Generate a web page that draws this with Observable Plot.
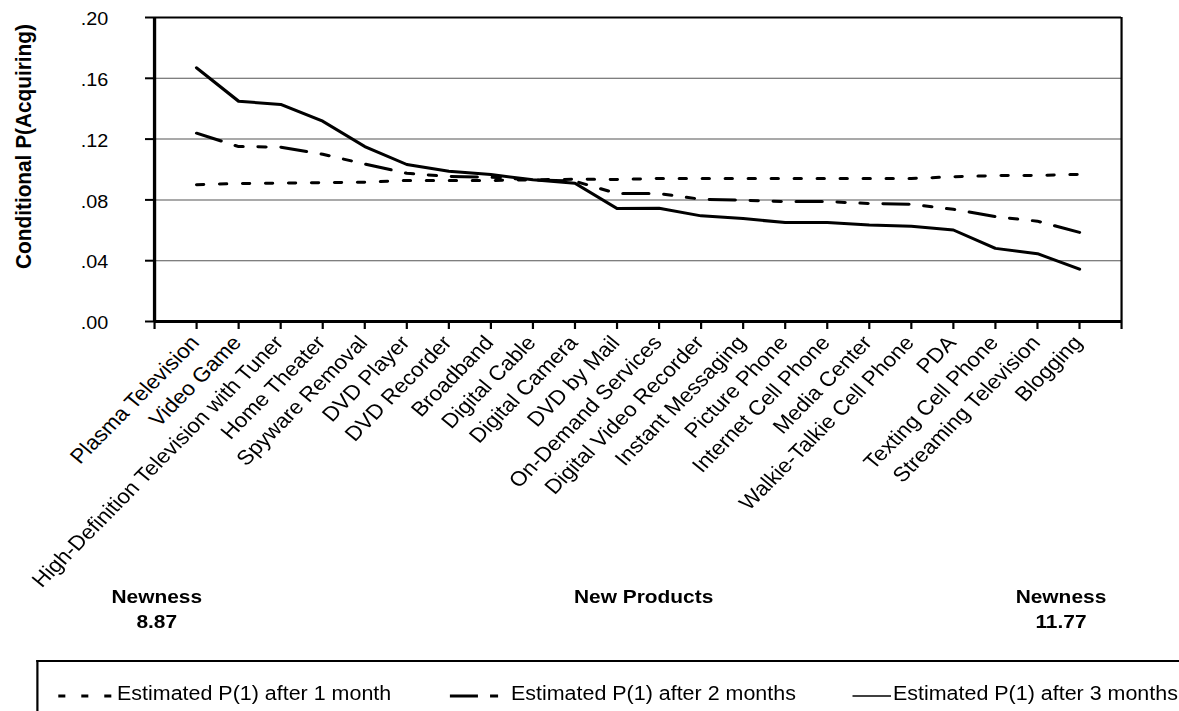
<!DOCTYPE html>
<html>
<head>
<meta charset="utf-8">
<script src="https://cdn.jsdelivr.net/npm/d3@7"></script>
<script src="https://cdn.jsdelivr.net/npm/@observablehq/plot@0.6"></script>
<style>
  html, body { margin: 0; padding: 0; background: #fff; overflow: hidden; }
  #page { position: relative; width: 1072px; height: 711px; transform: scaleX(1.1); transform-origin: 0 0;
          font-family: "Liberation Sans", Arial, Helvetica, sans-serif; color: #000; }
  #chart { position: absolute; left: 0; top: 0; }
  .note { position: absolute; top: 584px; font-weight: bold; font-size: 19px; line-height: 25px;
          text-align: center; white-space: nowrap; transform: translateX(-50%); }
  #legendBox { position: absolute; left: 32.7px; top: 660px; width: 1100px; height: 60px;
               border-top: 2px solid #000; border-left: 2px solid #000; box-sizing: border-box; }
  .legText { position: absolute; top: 683px; font-size: 19.5px; line-height: 20px; white-space: nowrap; }
  .legSample { position: absolute; top: 690px; height: 12px; overflow: visible; }
</style>
</head>
<body>
<div id="page">
  <div id="chart"></div>
  <div id="legendBox"></div>
</div>
<script>
// ---------- data ----------
const products = [
  "Plasma Television", "Video Game", "High-Definition Television with Tuner", "Home Theater",
  "Spyware Removal", "DVD Player", "DVD Recorder", "Broadband", "Digital Cable", "Digital Camera",
  "DVD by Mail", "On-Demand Services", "Digital Video Recorder", "Instant Messaging", "Picture Phone",
  "Internet Cell Phone", "Media Center", "Walkie-Talkie Cell Phone", "PDA", "Texting Cell Phone",
  "Streaming Television", "Blogging"
];
const month1 = [0.0900, 0.0908, 0.0910, 0.0914, 0.0916, 0.0928, 0.0928, 0.0928, 0.0932, 0.0936, 0.0934,
                0.0941, 0.0941, 0.0941, 0.0941, 0.0941, 0.0941, 0.0941, 0.0952, 0.0960, 0.0961, 0.0968];
const month2 = [0.1239, 0.1151, 0.1147, 0.1100, 0.1036, 0.0975, 0.0954, 0.0949, 0.0932, 0.0923, 0.0842,
                0.0842, 0.0804, 0.0798, 0.0789, 0.0789, 0.0776, 0.0771, 0.0738, 0.0690, 0.0660, 0.0586];
const month3 = [0.1669, 0.1449, 0.1428, 0.1318, 0.1151, 0.1033, 0.0989, 0.0967, 0.0932, 0.0910, 0.0743,
                0.0745, 0.0695, 0.0677, 0.0651, 0.0651, 0.0635, 0.0626, 0.0602, 0.0481, 0.0446, 0.0344];
const yTicks = [0, 0.04, 0.08, 0.12, 0.16, 0.20];
const yTickLabels = [".00", ".04", ".08", ".12", ".16", ".20"];
const yTitle = "Conditional P(Acquiring)";
const xTitle = "New Products";
const newnessLeft = ["Newness", "8.87"];
const newnessRight = ["Newness", "11.77"];
const legendLabels = ["Estimated P(1) after 1 month", "Estimated P(1) after 2 months", "Estimated P(1) after 3 months"];

// ---------- layout (unstretched units; page is stretched by S horizontally) ----------
const S = 1.1;
const W = 1072;
const H = 600;
const dash1 = "6.4,14.5";
const dash2 = "23.6,13.6,7.3,13.6,7.3,13.6";

const rows = products.map((p, k) => ({pos: k + 1, product: p, m1: month1[k], m2: month2[k], m3: month3[k]}));
const xTicks = d3.range(0, products.length + 2);
const yMax = yTicks[yTicks.length - 1];

const marks = [
  Plot.ruleY(yTicks.slice(1, -1), {stroke: "#555", strokeWidth: 1}),
  Plot.line(rows, {x: "pos", y: "m3", stroke: "#000", strokeWidth: 3, strokeLinejoin: "round"}),
  Plot.line(rows, {x: "pos", y: "m2", stroke: "#000", strokeWidth: 3, strokeDasharray: dash2, strokeLinejoin: "round"}),
  Plot.line(rows, {x: "pos", y: "m1", stroke: "#000", strokeWidth: 3, strokeDasharray: dash1, strokeLinejoin: "round"}),
  Plot.ruleY([yMax], {stroke: "#000", strokeWidth: 2}),
  Plot.ruleX([products.length + 1], {stroke: "#000", strokeWidth: 2}),
  Plot.ruleX([0], {stroke: "#000", strokeWidth: 3}),
  Plot.ruleY([0], {stroke: "#000", strokeWidth: 3}),
  Plot.text(yTicks, {frameAnchor: "left", y: d => d, text: (d, i) => yTickLabels[i],
                     textAnchor: "end", dx: -42.1, dy: 2, fontSize: 18}),
  Plot.text(rows, {x: "pos", text: "product", frameAnchor: "bottom", rotate: -48,
                   textAnchor: "end", dx: 3.5, dy: 22, fontSize: 20.5}),
  Plot.text([yTitle], {frameAnchor: "left", text: d => d, rotate: -90, textAnchor: "middle",
                       dx: -119.1, dy: -23, fontSize: 20.8, fontWeight: "bold"})
];
if (Plot.axisX) {
  marks.push(Plot.axisX({ticks: xTicks, tickSize: 8, tickFormat: () => "", strokeWidth: 2, label: null}));
  marks.push(Plot.axisY({ticks: yTicks, tickSize: 8.2, tickFormat: () => "", strokeWidth: 2, label: null}));
}

const chart = Plot.plot({
  width: W, height: H,
  marginLeft: 140, marginRight: W - 1121 / S, marginTop: 17, marginBottom: H - 321,
  x: Plot.axisX ? {type: "linear", domain: [0, products.length + 1]}
               : {type: "linear", domain: [0, products.length + 1], ticks: xTicks, tickSize: 8, tickFormat: () => "", label: null},
  y: Plot.axisX ? {type: "linear", domain: [0, yMax]}
               : {type: "linear", domain: [0, yMax], ticks: yTicks, tickSize: 8.2, tickFormat: () => "", label: null},
  style: {fontFamily: '"Liberation Sans", Arial, Helvetica, sans-serif', color: "#000", background: "#fff", overflow: "visible"},
  marks
});
document.getElementById("chart").appendChild(chart);

// ---------- annotations below the chart ----------
const page = document.getElementById("page");
function note(lines, cx) {
  const d = document.createElement("div");
  d.className = "note";
  d.style.left = cx + "px";
  d.innerHTML = lines.join("<br>");
  page.appendChild(d);
}
note(newnessLeft, 142.5);
note([xTitle], 585.1);
note(newnessRight, 964.5);

// ---------- legend ----------
const legendItems = [
  {label: legendLabels[0], sx: 52.7, sw: 51, dash: "6.4,14.5", tx: 106.4},
  {label: legendLabels[1], sx: 409, sw: 46.4, dash: "25.5,11,7.3,30", tx: 464.5},
  {label: legendLabels[2], sx: 775, sw: 35, dash: null, tx: 811.8}
];
const NS = "http://www.w3.org/2000/svg";
for (const it of legendItems) {
  const svg = document.createElementNS(NS, "svg");
  svg.setAttribute("class", "legSample");
  svg.setAttribute("width", it.sw);
  svg.setAttribute("height", 12);
  svg.style.left = it.sx + "px";
  const ln = document.createElementNS(NS, "line");
  ln.setAttribute("x1", 0); ln.setAttribute("x2", it.sw);
  ln.setAttribute("y1", 6); ln.setAttribute("y2", 6);
  ln.setAttribute("stroke", "#000"); ln.setAttribute("stroke-width", it.dash ? 3 : 1.5);
  if (it.dash) ln.setAttribute("stroke-dasharray", it.dash);
  svg.appendChild(ln);
  page.appendChild(svg);
  const t = document.createElement("div");
  t.className = "legText";
  t.style.left = it.tx + "px";
  t.textContent = it.label;
  page.appendChild(t);
}
</script>
</body>
</html>
